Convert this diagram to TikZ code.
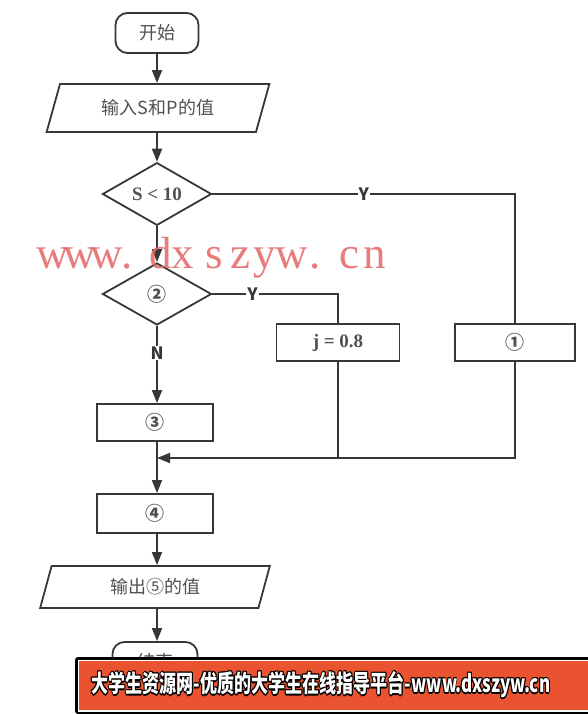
\documentclass[tikz,border=0pt]{standalone}
\usepackage{fontspec}
\newfontfamily\cjk{Noto Sans CJK SC}
\newfontfamily\serifb{Liberation Serif}
\usetikzlibrary{shapes.geometric,arrows.meta}
\definecolor{linegray}{RGB}{55,55,55}
\definecolor{textgray}{RGB}{80,80,80}
\definecolor{wmred}{RGB}{228,100,100}
\definecolor{bannerred}{RGB}{233,83,48}
\tikzset{
  flow/.style={draw=linegray, line width=1.8pt, text=textgray},
  term/.style={flow, rounded corners=12pt, minimum width=83pt, minimum height=40pt, font=\cjk\fontsize{18}{18}\selectfont},
  io/.style={flow, trapezium, trapezium stretches=true, trapezium left angle=#1, trapezium right angle=180-#1, inner sep=2pt, font=\cjk\fontsize{18}{18}\selectfont},
  proc/.style={flow, rectangle, minimum width=116pt, minimum height=37pt, font=\cjk\bfseries\fontsize{19}{19}\selectfont},
  dec/.style={flow, diamond, minimum width=109pt, minimum height=62pt, inner sep=0pt},
  ln/.style={draw=linegray, line width=1.8pt},
  arr/.style={ln, -{Triangle[length=13pt,width=10pt]}},
  yn/.style={fill=white, inner sep=1pt, text=linegray, font=\cjk\bfseries\fontsize{17}{17}\selectfont},
  bantext/.style={font=\cjk\bfseries\fontsize{24}{24}\selectfont, xscale=0.71, inner sep=0pt}
}
\begin{document}
\begin{tikzpicture}[x=1pt, y=-1pt]
\useasboundingbox (0,0) rectangle (587,714);
\node[term] (start) at (157,33) {开始};
\node[io=69, minimum width=223pt, minimum height=48pt] (input) at (158,108) {输入S和P的值};
\node[dec, font=\serifb\bfseries\fontsize{19}{19}\selectfont] (cond) at (157,194) {S < 10};
\node[dec, font=\cjk\bfseries\fontsize{19}{19}\selectfont] (two) at (157,294) {②};
\node[proc, minimum width=123pt, font=\serifb\bfseries\fontsize{19}{19}\selectfont] (jset) at (338,342.5) {j = 0.8};
\node[proc, minimum width=120pt] (one) at (515,342.5) {①};
\node[proc] (three) at (155,422.5) {③};
\node[proc, minimum height=39pt] (four) at (155,513.5) {④};
\node[io=76, minimum width=230pt, minimum height=42pt] (output) at (155,587) {输出⑤的值};
\node[term, minimum width=85pt] (stop) at (155,662) {结束};
\coordinate (merge) at (157,458);

\draw[arr] (start) -- (start |- input.north);
\draw[arr] (input.south -| cond.north) -- (cond);
\draw[arr] (cond) -- (two);
\draw[ln] (cond.east) -| node[yn, pos=0.25] {Y} (one.north);
\draw[ln] (two.east) -| node[yn, pos=0.16] {Y} (jset.north);
\draw[arr] (two.south) -- node[yn, pos=0.35] {N} (three.north -| two.south);
\draw[ln] (three.south -| merge) -- (merge);
\draw[arr] (one.south) |- (merge);
\draw[ln] (jset.south) -- (jset.south |- merge);
\draw[arr] (merge) -- (four.north -| merge);
\draw[arr] (four.south -| merge) -- (output.north -| merge);
\draw[arr] (output.south -| merge) -- (stop.north -| merge);

\foreach \ch/\cx [count=\i] in {w/53, w/80, w/107, ./127, d/161, x/183, s/214, z/240, y/265, w/292, ./315, c/349, n/375}
  \node[anchor=base, inner sep=0pt, text=wmred, opacity=0.85, font=\serifb\fontsize{45}{45}\selectfont] (wm\i) at (\cx,268) {\ch};

\fill[black, rounded corners=3pt] (75,657) rectangle (592,714);
\fill[white] (77.5,659.5) rectangle (592,711.5);
\fill[bannerred] (79,661) rectangle (592,709.5);
\foreach \dx/\dy in {-1.3/0, 1.3/0, 0/-1.3, 0/1.3, -1/-1, 1/1, -1/1, 1/-1}
  \node[bantext, text=black, xshift=\dx pt, yshift=\dy pt] at (321,685) {大学生资源网-优质的大学生在线指导平台-www.dxszyw.cn};
\node[bantext, text=white] (banner) at (321,685) {大学生资源网-优质的大学生在线指导平台-www.dxszyw.cn};
\end{tikzpicture}
\end{document}
